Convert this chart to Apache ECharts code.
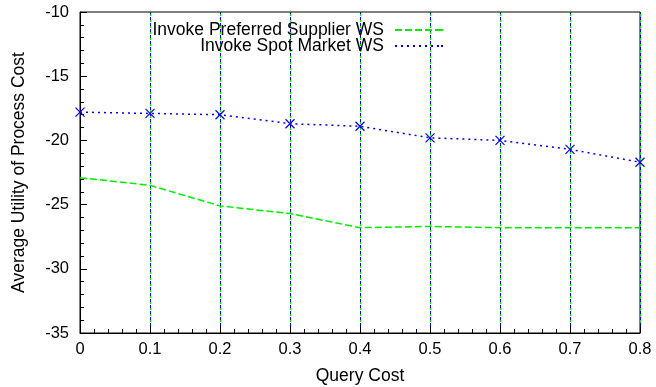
<!DOCTYPE html>
<html>
<head>
<meta charset="utf-8">
<script src="https://cdn.jsdelivr.net/npm/echarts@6/dist/echarts.min.js"></script>
<style>
html,body{margin:0;padding:0;background:#fff;}
#chart{width:656px;height:387px;}
</style>
</head>
<body>
<div id="chart"></div>
<script>
var queryCost = [0, 0.1, 0.2, 0.3, 0.4, 0.5, 0.6, 0.7, 0.8];
var preferredSupplier = [-22.9, -23.5, -25.1, -25.7, -26.8, -26.7, -26.8, -26.8, -26.8];
var spotMarket = [-17.8, -17.9, -18.0, -18.7, -18.9, -19.8, -20.0, -20.7, -21.7];
var seriesNames = ['Invoke Preferred Supplier WS', 'Invoke Spot Market WS'];

function pairs(xs, ys) { return xs.map(function (x, i) { return [x, ys[i]]; }); }

var dashIcon = 'path://M0,0h7v2h-7zM10,0h7v2h-7zM20,0h7v2h-7zM30,0h7v2h-7zM40,0h8v2h-8z';
var dotIcon = 'path://M0,0h2v2h-2zM6,0h2v2h-2zM12,0h2v2h-2zM18,0h2v2h-2zM24,0h2v2h-2zM30,0h2v2h-2zM36,0h2v2h-2zM42,0h2v2h-2zM46,0h2v2h-2z';

var font = 'Liberation Sans, Arial, sans-serif';
var fs = 16.5;
var lfs = 17.5;
var chart = echarts.init(document.getElementById('chart'), null, {renderer: 'canvas'});
chart.setOption({
  backgroundColor: '#fff',
  animation: false,
  textStyle: {fontFamily: font},
  grid: {left: 80, right: 16, top: 12, bottom: 54, show: true, borderColor: '#000', borderWidth: 1,
         backgroundColor: 'transparent', containLabel: false, outerBoundsMode: 'none'},
  legend: [
    {data: [{name: seriesNames[0], icon: dashIcon, itemStyle: {color: '#00ee00', borderWidth: 0}}],
     right: 213, top: 21, orient: 'vertical', align: 'right',
     itemWidth: 48, itemHeight: 2, padding: 0,
     textStyle: {fontFamily: font, fontSize: lfs, color: '#000', padding: [0, 6, 0, 0]}},
    {data: [{name: seriesNames[1], icon: dotIcon, itemStyle: {color: '#0000ee', borderWidth: 0}}],
     right: 213, top: 37, orient: 'vertical', align: 'right',
     itemWidth: 48, itemHeight: 2, padding: 0,
     textStyle: {fontFamily: font, fontSize: lfs, color: '#000', padding: [0, 6, 0, 0]}}
  ],
  xAxis: [
    {type: 'value', min: 0, max: 0.8, interval: 0.1,
     name: 'Query Cost', nameLocation: 'middle', nameGap: 34,
     nameTextStyle: {fontFamily: font, fontSize: lfs, color: '#000'},
     axisLine: {show: true, lineStyle: {color: '#000', width: 1}},
     axisTick: {show: true, inside: true, length: 7, lineStyle: {color: '#000'}},
     minorTick: {show: true, splitNumber: 5, length: 4, lineStyle: {color: '#000'}},
     axisLabel: {fontFamily: font, fontSize: fs, color: '#000', margin: 8,
       formatter: function (v) { return String(Math.round(v * 10) / 10); }},
     splitLine: {show: true, lineStyle: {color: '#00ee00', type: [4, 2], width: 1}}
    },
    {type: 'value', min: 0, max: 0.8, interval: 0.1, position: 'bottom',
     axisLine: {show: false}, axisTick: {show: false}, axisLabel: {show: false},
     splitLine: {show: true, lineStyle: {color: '#0000ee', type: [3, 3], dashOffset: 1, width: 1}}
    }
  ],
  yAxis: {type: 'value', min: -35, max: -10, interval: 5,
    name: 'Average Utility of Process Cost', nameLocation: 'middle', nameGap: 52,
    nameTextStyle: {fontFamily: font, fontSize: lfs, color: '#000'},
    axisLine: {show: true, lineStyle: {color: '#000', width: 1}},
    axisTick: {show: true, inside: true, length: 7, lineStyle: {color: '#000'}},
    minorTick: {show: true, splitNumber: 5, length: 4, lineStyle: {color: '#000'}},
    axisLabel: {fontFamily: font, fontSize: fs, color: '#000', margin: 11},
    splitLine: {show: false}
  },
  series: [
    {name: seriesNames[0], type: 'line', xAxisIndex: 0, data: pairs(queryCost, preferredSupplier),
     showSymbol: false, symbol: 'none', color: '#00ee00',
     lineStyle: {color: '#00ee00', width: 1.5, type: [7, 3]}, z: 3},
    {name: seriesNames[1], type: 'line', xAxisIndex: 0, data: pairs(queryCost, spotMarket),
     symbol: 'path://M0,0L10,10M10,0L0,10', symbolSize: 9, color: '#0000ee',
     itemStyle: {color: 'none', borderColor: '#0000ee', borderWidth: 1.2},
     lineStyle: {color: '#0000ee', width: 1.5, type: [2, 4]}, z: 4}
  ]
});
</script>
</body>
</html>
